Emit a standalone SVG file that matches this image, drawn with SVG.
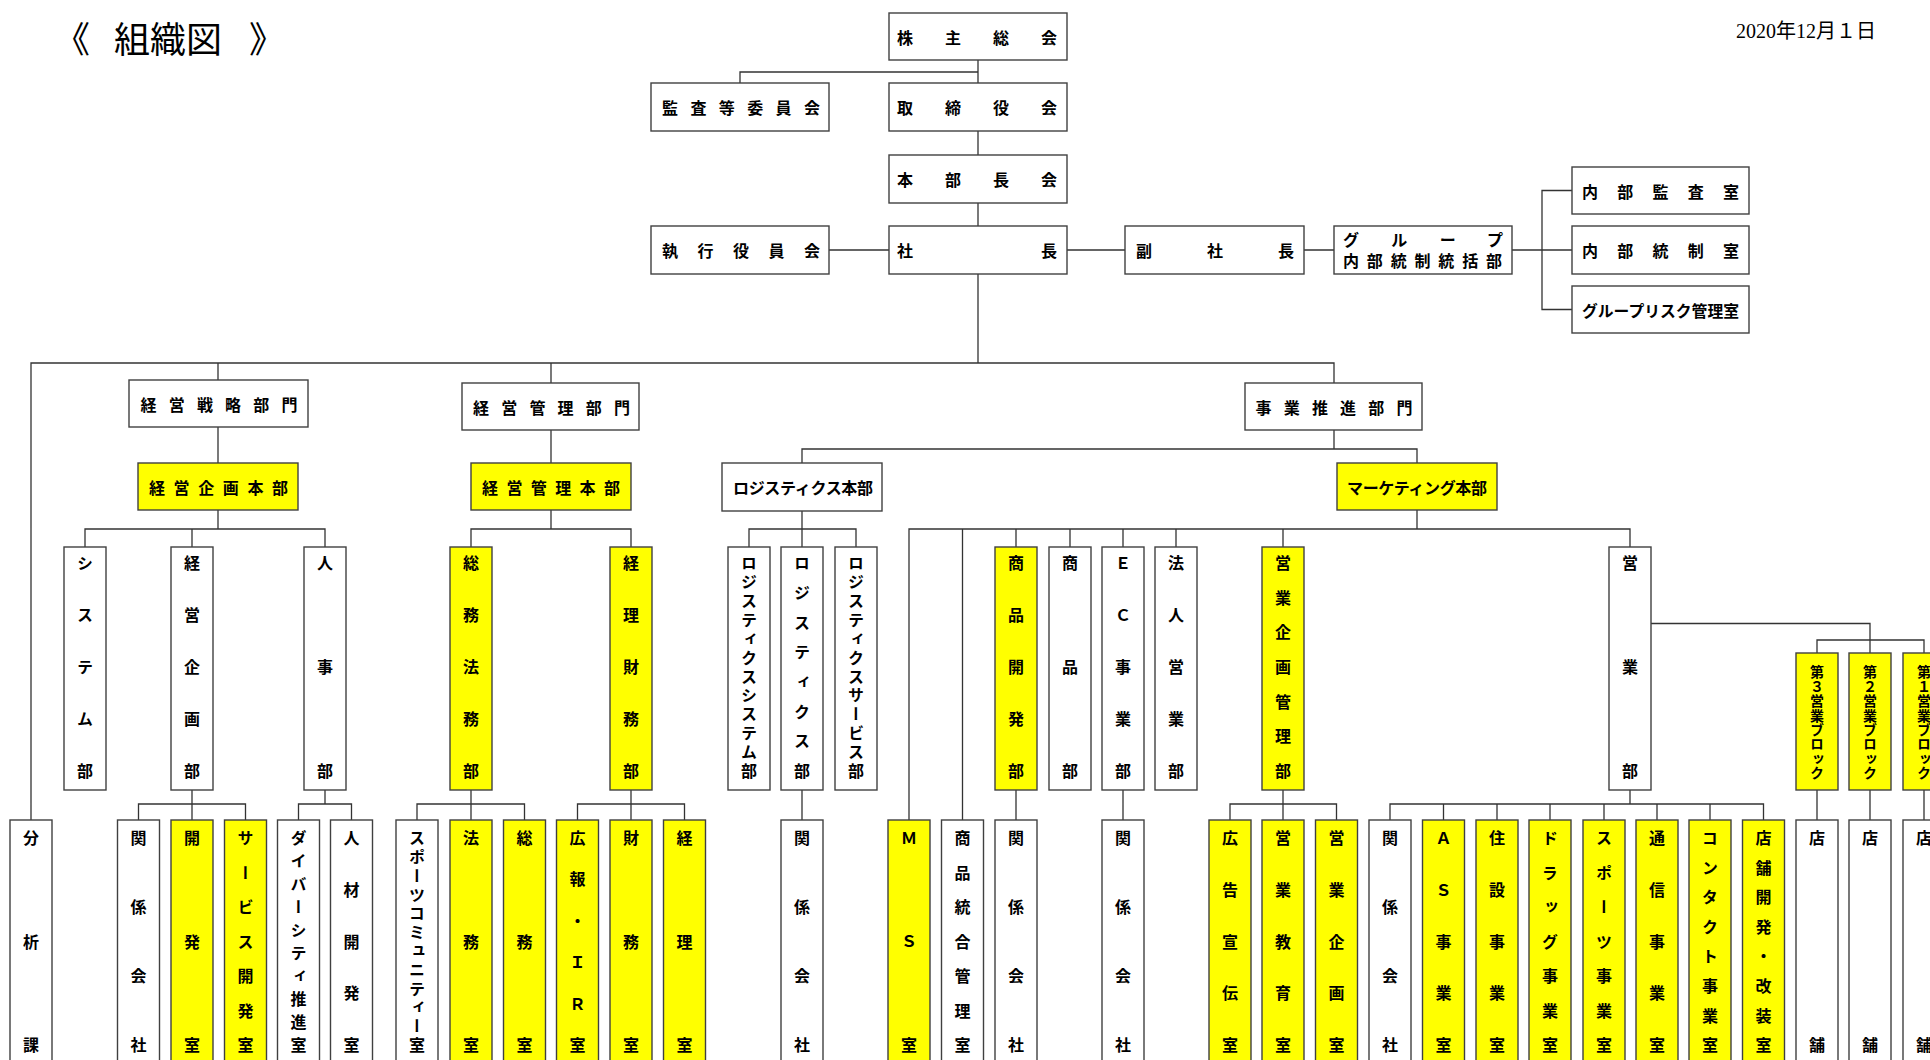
<svg xmlns="http://www.w3.org/2000/svg" width="1930" height="1060" viewBox="0 0 1930 1060">
<style>
.bw{fill:#fff;stroke:#404040;stroke-width:1.4}
.by{fill:#ffff00;stroke:#404040;stroke-width:1.4}
.h{font-family:"Noto Sans CJK JP","Noto Sans",sans-serif;font-size:16px;font-weight:bold;dominant-baseline:central;fill:#000}
.v{font-family:"Noto Sans CJK JP","Noto Sans",sans-serif;font-size:16px;font-weight:bold;writing-mode:vertical-rl;text-anchor:start;fill:#000}
.sm{font-size:14px}
.c{fill:none;stroke:#333;stroke-width:1.3}
.title{font-family:"Noto Sans CJK JP",sans-serif;font-size:36px;fill:#000}
.date{font-family:"Liberation Serif","Noto Sans CJK JP",serif;font-size:20px;fill:#000}
</style>
<rect x="0" y="0" width="1930" height="1060" fill="#fff"/>
<text class="title" y="53"><tspan x="54">《</tspan><tspan x="114">組織図</tspan><tspan x="249">》</tspan></text>
<text class="date" x="1736" y="38">2020年12月１日</text>

<g id="connectors">
<path class="c" d="M978,60V83 M740,83V72H978 M978,131V155 M978,203V226 M829,250H889 M1067,250H1125 M1304,250H1334 M1512,250H1572 M1572,190.5H1542V309.5H1572
M978,274V363 M31,820V363H1334V383 M218,363V380 M551,363V383
M218,427V463 M218,510V529 M85,547V529H325V547 M192,529V547
M551,430V463 M551,510V529 M471,547V529H631V547
M1334,430V449 M802,463V449H1417V463
M802,511V529 M749,547V529H856V547 M802,529V547
M1417,510V529 M909,820V529H1630V547 M962.5,529V820 M1016,529V547 M1070,529V547 M1123,529V547 M1176,529V547 M1283,529V547
M192,790V820 M138.5,820V804H245.5V820
M325,790V804 M298.5,820V804H351.5V820
M471,790V820 M417,820V804H524.5V820
M631,790V820 M577.5,820V804H684.5V820
M802,790V820 M1016,790V820 M1123,790V820
M1283,790V820 M1230,820V804H1336.5V820
M1630,790V804 M1390,820V804H1763.5V820 M1443.5,804V820 M1497,804V820 M1550,804V820 M1604,804V820 M1657,804V820 M1710,804V820
M1651,623.5H1870V653 M1817,653V640H1924V653
M1817,790V820 M1870,790V820 M1924,790V820"/>
</g>

<g id="n-kabunushi"><rect class="bw" x="889" y="13" width="178" height="47"/><text class="h" x="897" y="36.5" textLength="160" lengthAdjust="spacing">株主総会</text></g>
<g id="n-kansa"><rect class="bw" x="651" y="83" width="178" height="48"/><text class="h" x="662" y="107" textLength="158" lengthAdjust="spacing">監査等委員会</text></g>
<g id="n-torishimariyaku"><rect class="bw" x="889" y="83" width="178" height="48"/><text class="h" x="897" y="107" textLength="160" lengthAdjust="spacing">取締役会</text></g>
<g id="n-honbuchokai"><rect class="bw" x="889" y="155" width="178" height="48"/><text class="h" x="897" y="179" textLength="160" lengthAdjust="spacing">本部長会</text></g>
<g id="n-shikko"><rect class="bw" x="651" y="226" width="178" height="48"/><text class="h" x="662" y="250" textLength="158" lengthAdjust="spacing">執行役員会</text></g>
<g id="n-shacho"><rect class="bw" x="889" y="226" width="178" height="48"/><text class="h" x="897" y="250" textLength="160" lengthAdjust="spacing">社長</text></g>
<g id="n-fukushacho"><rect class="bw" x="1125" y="226" width="179" height="48"/><text class="h" x="1136" y="250" textLength="158" lengthAdjust="spacing">副社長</text></g>
<g id="n-group"><rect class="bw" x="1334" y="226" width="178" height="48"/><text class="h" x="1343" y="238.5" textLength="160" lengthAdjust="spacing">グループ</text><text class="h" x="1343" y="259.5" textLength="159" lengthAdjust="spacing">内部統制統括部</text></g>
<g id="n-naibukansa"><rect class="bw" x="1572" y="167" width="177" height="47"/><text class="h" x="1582" y="190.5" textLength="157" lengthAdjust="spacing">内部監査室</text></g>
<g id="n-naibutosei"><rect class="bw" x="1572" y="226" width="177" height="48"/><text class="h" x="1582" y="250" textLength="157" lengthAdjust="spacing">内部統制室</text></g>
<g id="n-risk"><rect class="bw" x="1572" y="286" width="177" height="47"/><text class="h" x="1582" y="309.5" textLength="157" lengthAdjust="spacingAndGlyphs" style="font-size:15.5px">グループリスク管理室</text></g>
<g id="n-senryaku"><rect class="bw" x="129" y="380" width="179" height="47"/><text class="h" x="140.5" y="403.5" textLength="157" lengthAdjust="spacing">経営戦略部門</text></g>
<g id="n-kanribumon"><rect class="bw" x="462" y="383" width="177" height="47"/><text class="h" x="473" y="406.5" textLength="157" lengthAdjust="spacing">経営管理部門</text></g>
<g id="n-jigyo"><rect class="bw" x="1245" y="383" width="177" height="47"/><text class="h" x="1255.5" y="406.5" textLength="157" lengthAdjust="spacing">事業推進部門</text></g>
<g id="n-kikakuhonbu"><rect class="by" x="138" y="463" width="160" height="47"/><text class="h" x="149" y="486.5" textLength="139" lengthAdjust="spacing">経営企画本部</text></g>
<g id="n-kanrihonbu"><rect class="by" x="471" y="463" width="160" height="47"/><text class="h" x="482" y="486.5" textLength="138" lengthAdjust="spacing">経営管理本部</text></g>
<g id="n-logihonbu"><rect class="bw" x="722" y="463" width="160" height="48"/><text class="h" x="733" y="487" textLength="140" lengthAdjust="spacing">ロジスティクス本部</text></g>
<g id="n-marketing"><rect class="by" x="1337" y="463" width="160" height="47"/><text class="h" x="1347" y="486.5" textLength="140" lengthAdjust="spacing">マーケティング本部</text></g>

<!-- upper vertical row -->
<g id="n-system"><rect class="bw" x="64" y="547" width="42" height="243"/><text class="v" x="85" y="555 607 659 711 763">システム部</text></g>
<g id="n-keieikikaku"><rect class="bw" x="171" y="547" width="42" height="243"/><text class="v" x="192" y="555 607 659 711 763">経営企画部</text></g>
<g id="n-jinji"><rect class="bw" x="304" y="547" width="42" height="243"/><text class="v" x="325" y="555 659 763">人事部</text></g>
<g id="n-somuhomu"><rect class="by" x="450" y="547" width="42" height="243"/><text class="v" x="471" y="555 607 659 711 763">総務法務部</text></g>
<g id="n-keirizaimu"><rect class="by" x="610" y="547" width="42" height="243"/><text class="v" x="631" y="555 607 659 711 763">経理財務部</text></g>
<g id="n-logisys"><rect class="bw" x="728" y="547" width="42" height="243"/><text class="v" x="749" y="555 573.91 592.82 611.73 630.64 649.55 668.45 687.36 706.27 725.18 744.09 763">ロジスティクスシステム部</text></g>
<g id="n-logi"><rect class="bw" x="781" y="547" width="42" height="243"/><text class="v" x="802" y="555 584.71 614.43 644.14 673.86 703.57 733.29 763">ロジスティクス部</text></g>
<g id="n-logiservice"><rect class="bw" x="835" y="547" width="42" height="243"/><text class="v" x="856" y="555 573.91 592.82 611.73 630.64 649.55 668.45 687.36 706.27 725.18 744.09 763">ロジスティクスサービス部</text></g>
<g id="n-shohinkaihatsu"><rect class="by" x="995" y="547" width="42" height="243"/><text class="v" x="1016" y="555 607 659 711 763">商品開発部</text></g>
<g id="n-shohin"><rect class="bw" x="1049" y="547" width="42" height="243"/><text class="v" x="1070" y="555 659 763">商品部</text></g>
<g id="n-ec"><rect class="bw" x="1102" y="547" width="42" height="243"/><text class="v" x="1123" y="555 607 659 711 763">ＥＣ事業部</text></g>
<g id="n-hojin"><rect class="bw" x="1155" y="547" width="42" height="243"/><text class="v" x="1176" y="555 607 659 711 763">法人営業部</text></g>
<g id="n-eigyokikakukanri"><rect class="by" x="1262" y="547" width="42" height="243"/><text class="v" x="1283" y="555 589.67 624.33 659 693.67 728.33 763">営業企画管理部</text></g>
<g id="n-eigyobu"><rect class="bw" x="1609" y="547" width="42" height="243"/><text class="v" x="1630" y="555 659 763">営業部</text></g>

<!-- blocks -->
<g id="n-block3"><rect class="by" x="1796" y="653" width="42" height="137"/><text class="v sm" x="1817" y="665 679.4 693.8 708.2 722.6 737 751.4 765.8">第３営業ブロック</text></g>
<g id="n-block2"><rect class="by" x="1849" y="653" width="42" height="137"/><text class="v sm" x="1870" y="665 679.4 693.8 708.2 722.6 737 751.4 765.8">第２営業ブロック</text></g>
<g id="n-block1"><rect class="by" x="1903" y="653" width="42" height="137"/><text class="v sm" x="1924" y="665 679.4 693.8 708.2 722.6 737 751.4 765.8">第１営業ブロック</text></g>

<!-- lower vertical row -->
<g id="n-bunseki"><rect class="bw" x="10" y="820" width="42" height="250"/><text class="v" x="31" y="830 933.5 1037">分析課</text></g>
<g id="n-kankei1"><rect class="bw" x="117.5" y="820" width="42" height="250"/><text class="v" x="138.5" y="830 899 968 1037">関係会社</text></g>
<g id="n-kaihatsu"><rect class="by" x="171" y="820" width="42" height="250"/><text class="v" x="192" y="830 933.5 1037">開発室</text></g>
<g id="n-servicekaihatsu"><rect class="by" x="224.5" y="820" width="42" height="250"/><text class="v" x="245.5" y="830 864.5 899 933.5 968 1002.5 1037">サービス開発室</text></g>
<g id="n-diversity"><rect class="bw" x="277.5" y="820" width="42" height="250"/><text class="v" x="298.5" y="830 853 876 899 922 945 968 991 1014 1037">ダイバーシティ推進室</text></g>
<g id="n-jinzai"><rect class="bw" x="330.5" y="820" width="42" height="250"/><text class="v" x="351.5" y="830 881.75 933.5 985.25 1037">人材開発室</text></g>
<g id="n-sportscommunity"><rect class="bw" x="396" y="820" width="42" height="250"/><text class="v" x="417" y="830 848.82 867.64 886.45 905.27 924.09 942.91 961.73 980.55 999.36 1018.18 1037">スポーツコミュニティー室</text></g>
<g id="n-homu"><rect class="by" x="450" y="820" width="42" height="250"/><text class="v" x="471" y="830 933.5 1037">法務室</text></g>
<g id="n-somu"><rect class="by" x="503.5" y="820" width="42" height="250"/><text class="v" x="524.5" y="830 933.5 1037">総務室</text></g>
<g id="n-koho"><rect class="by" x="556.5" y="820" width="42" height="250"/><text class="v" x="577.5" y="830 871.4 912.8 954.2 995.6 1037">広報・ＩＲ室</text></g>
<g id="n-zaimu"><rect class="by" x="610" y="820" width="42" height="250"/><text class="v" x="631" y="830 933.5 1037">財務室</text></g>
<g id="n-keiri"><rect class="by" x="663.5" y="820" width="42" height="250"/><text class="v" x="684.5" y="830 933.5 1037">経理室</text></g>
<g id="n-kankei2"><rect class="bw" x="781" y="820" width="42" height="250"/><text class="v" x="802" y="830 899 968 1037">関係会社</text></g>
<g id="n-ms"><rect class="by" x="888" y="820" width="42" height="250"/><text class="v" x="909" y="830 933.5 1037">ＭＳ室</text></g>
<g id="n-shohintogo"><rect class="bw" x="941.5" y="820" width="42" height="250"/><text class="v" x="962.5" y="830 864.5 899 933.5 968 1002.5 1037">商品統合管理室</text></g>
<g id="n-kankei3"><rect class="bw" x="995" y="820" width="42" height="250"/><text class="v" x="1016" y="830 899 968 1037">関係会社</text></g>
<g id="n-kankei4"><rect class="bw" x="1102" y="820" width="42" height="250"/><text class="v" x="1123" y="830 899 968 1037">関係会社</text></g>
<g id="n-kokoku"><rect class="by" x="1209" y="820" width="42" height="250"/><text class="v" x="1230" y="830 881.75 933.5 985.25 1037">広告宣伝室</text></g>
<g id="n-eigyokyoiku"><rect class="by" x="1262" y="820" width="42" height="250"/><text class="v" x="1283" y="830 881.75 933.5 985.25 1037">営業教育室</text></g>
<g id="n-eigyokikaku"><rect class="by" x="1315.5" y="820" width="42" height="250"/><text class="v" x="1336.5" y="830 881.75 933.5 985.25 1037">営業企画室</text></g>
<g id="n-kankei5"><rect class="bw" x="1369" y="820" width="42" height="250"/><text class="v" x="1390" y="830 899 968 1037">関係会社</text></g>
<g id="n-as"><rect class="by" x="1422.5" y="820" width="42" height="250"/><text class="v" x="1443.5" y="830 881.75 933.5 985.25 1037">ＡＳ事業室</text></g>
<g id="n-jusetsu"><rect class="by" x="1476" y="820" width="42" height="250"/><text class="v" x="1497" y="830 881.75 933.5 985.25 1037">住設事業室</text></g>
<g id="n-drug"><rect class="by" x="1529" y="820" width="42" height="250"/><text class="v" x="1550" y="830 864.5 899 933.5 968 1002.5 1037">ドラッグ事業室</text></g>
<g id="n-sportsjigyo"><rect class="by" x="1583" y="820" width="42" height="250"/><text class="v" x="1604" y="830 864.5 899 933.5 968 1002.5 1037">スポーツ事業室</text></g>
<g id="n-tsushin"><rect class="by" x="1636" y="820" width="42" height="250"/><text class="v" x="1657" y="830 881.75 933.5 985.25 1037">通信事業室</text></g>
<g id="n-contact"><rect class="by" x="1689" y="820" width="42" height="250"/><text class="v" x="1710" y="830 859.57 889.14 918.71 948.29 977.86 1007.43 1037">コンタクト事業室</text></g>
<g id="n-tenpokaihatsu"><rect class="by" x="1742.5" y="820" width="42" height="250"/><text class="v" x="1763.5" y="830 859.57 889.14 918.71 948.29 977.86 1007.43 1037">店舗開発・改装室</text></g>
<g id="n-tenpo3"><rect class="bw" x="1796" y="820" width="42" height="250"/><text class="v" x="1817" y="830 1037">店舗</text></g>
<g id="n-tenpo2"><rect class="bw" x="1849" y="820" width="42" height="250"/><text class="v" x="1870" y="830 1037">店舗</text></g>
<g id="n-tenpo1"><rect class="bw" x="1903" y="820" width="42" height="250"/><text class="v" x="1924" y="830 1037">店舗</text></g>
</svg>
